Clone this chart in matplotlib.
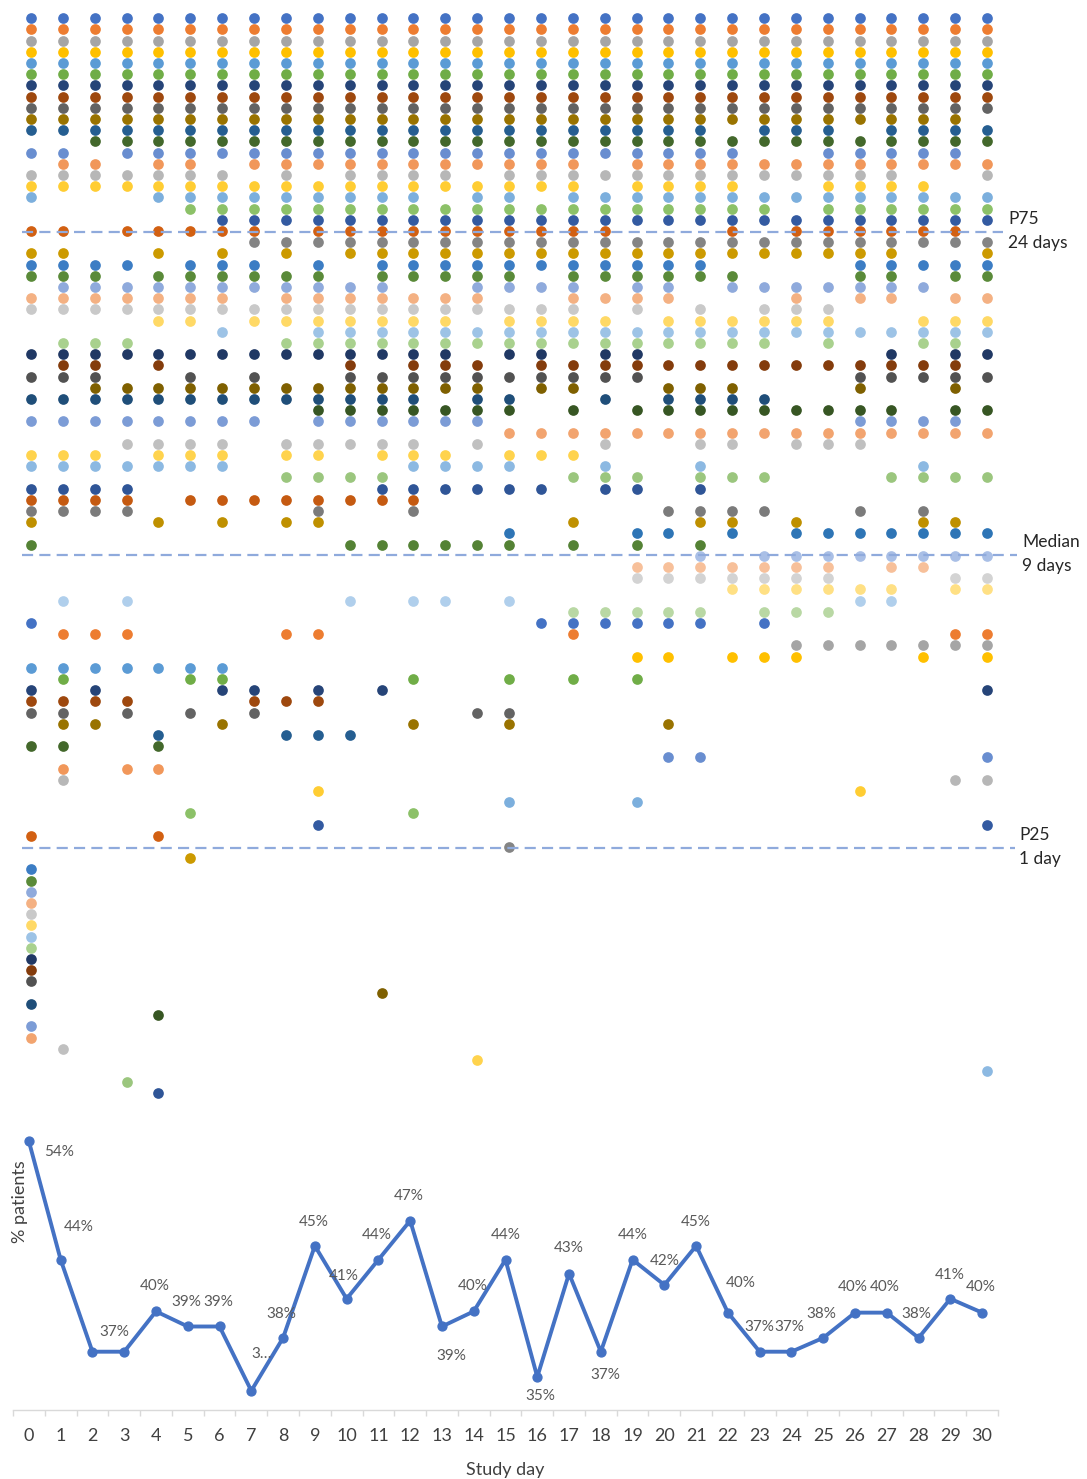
import matplotlib
matplotlib.use("Agg")
import matplotlib.pyplot as plt

# ---------------- data ----------------
# Study days 0..30
days = list(range(0, 31))

# Days on which each patient (row, top to bottom) has a dot; "a-b" = every day from a to b
patient_days_upper = [
    "0-30", "0-30", "0-30", "0-30", "0-30", "0-30", "0-30", "0-30", "0-30",
    "0-29", "0-21,23-25,27-30", "2-30", "0-1,3-22,25-29", "1-2,4-5,7-17,19-30",
    "0-6,8,10-13,15-27,30", "0-17,19-22,25-28", "0,4-12,14-15,17-30", "5-23,25-30",
    "6-30", "0-1,3-7,9-18,22,24-29", "7-30", "0-1,4,6,8,10-27,30",
    "0-3,5-7,9,11-21,26-30", "0-2,4-9,11-15,17-22,26-27,29-30",
    "1-11,14-17,19-20,22-28", "0-6,8-14,17-20,24,26-27,29-30",
    "0-17,19,21,23-25", "4-5,7-13,15-18,20-25,28-30", "6,9-30",
    "1-3,8-23,25,28-29", "0-13,15-16,18-19,27,29-30", "1-2,4,10,12-14,16-29",
]
patient_days_middle = [
    "0-2,5,7,10-19,26-30", "2-14,16-17,20-22,26,29", "0-12,14-15,18,20-23",
    "9-15,17,19-27,29-30", "0-7,9-14,26-29", "15-30",
    "3-6,8-12,14,18,21-22,24-26", "0-2,4-6,8-9,11-13,15-17", "0-6,12-15,18,21,28",
    "8-11,17-19,21-23,27-30", "0-3,11-16,18-19,21", "0-3,5-12",
    "0-3,9,12,20-23,26,28", "0,4,6,8-9,17,21-22,24,28-29", "15,19-20,22,24-30",
    "0,10-15,17,19,21", "21,23-30", "19-25,27-28", "19-25,29-30", "22-27,29-30",
    "1,3,10,12-13,15,26-27", "17-21,23-25", "0,16-21,23", "1-3,8-9,17,29-30",
    "24-30", "19-20,22-24,28,30", "0-6", "1,5-6,12,15,17,19", "0,2,6-7,9,11,30",
    "0-3,7-9", "0-1,3,5,7,14-15", "1-2,6,12,15,20",
]
patient_days_lower = [
    "4,8-10", "0-1,4", "20-21,30", "1,3-4", "1,29-30", "9,26", "15,19", "5,12",
    "9,30", "0,4", "15", "5", "0", "0", "0", "0", "0", "0", "0", "0", "0", "0",
    "0", "11", "0", "4", "0", "0", "1", "14", "30", "3", "4",
]

# Percentiles of days (row position of the reference lines, label text)
ref_names = ["P75", "Median", "P25"]
ref_values = ["24 days", "9 days", "1 day"]
ref_rows = [19.1, 47.9, 74.1]

# % patients per study day
pct_patients = [53.7, 44.3, 37.0, 37.0, 40.2, 39.0, 39.0, 33.9, 38.1, 45.4, 41.2,
                44.3, 47.4, 39.0, 40.2, 44.3, 35.0, 43.2, 37.0, 44.3, 42.3, 45.4,
                40.1, 37.0, 37.0, 38.1, 40.1, 40.1, 38.1, 41.2, 40.1]
pct_labels = ["54%", "44%", "", "37%", "40%", "39%", "39%", "3\u2026", "38%", "45%",
              "41%", "44%", "47%", "39%", "40%", "44%", "35%", "43%", "37%", "44%",
              "42%", "45%", "40%", "37%", "37%", "38%", "40%", "40%", "38%", "41%", "40%"]

# ---------------- styles ----------------
# Excel default series colour cycle (54 colours)
palette = [
    "#4472C4", "#ED7D31", "#A5A5A5", "#FFC000", "#5B9BD5", "#70AD47",
    "#264478", "#9E480E", "#636363", "#997300", "#255E91", "#43682B",
    "#698ED0", "#F1975A", "#B7B7B7", "#FFCD33", "#7CAFDD", "#8CC168",
    "#335AA1", "#D26012", "#848484", "#CC9A00", "#3C7DC4", "#5A8A39",
    "#8FAADC", "#F4B183", "#C9C9C9", "#FFD966", "#9DC3E6", "#A9D18E",
    "#203864", "#843C0C", "#525252", "#7F6000", "#1F4E79", "#375623",
    "#7C9CD6", "#F2A46F", "#C0C0C0", "#FFD34D", "#8CB9E2", "#9BC67E",
    "#2F5597", "#C55A11", "#7B7B7B", "#BF9000", "#2E75B6", "#548235",
    "#A9BFE6", "#F7C09A", "#D3D3D3", "#FFE084", "#B0CFEC", "#B9D8A4",
]
label_offsets = [(30, 11), (18, -33), (0, 0), (-10, -20), (-1, -25), (-1, -25), (-1, -25),
                 (10, -37), (-2, -24), (-1, -24), (-3, -23), (-2, -25), (-1, -25),
                 (9, 30), (-1, -25), (0, -25), (3, 19), (0, -26), (4, 23), (0, -25),
                 (0, -24), (0, -24), (13, -30), (0, -25), (-2, -25), (-2, -24),
                 (-2, -26), (-2, -26), (-2, -24), (-1, -24), (-1, -26)]

FONT = ["Lato", "DejaVu Sans"]
plt.rcParams["font.family"] = FONT


def parse_days(spec):
    out = []
    for part in spec.split(","):
        if "-" in part:
            a, b = part.split("-")
            out.extend(range(int(a), int(b) + 1))
        else:
            out.append(int(part))
    return out


patients = [parse_days(s) for s in patient_days_upper + patient_days_middle + patient_days_lower]

W, H = 1087, 1479
fig = plt.figure(figsize=(W / 100, H / 100), dpi=100)


def fy(py):
    return 1 - py / H


# ---------- dot matrix ----------
TOP_H = 1110
ax = fig.add_axes([0, fy(TOP_H), 1, TOP_H / H])
x0, dx = 31.0, 31.87
y0, dy = 18.3, 11.2
ax.set_xlim((0 - x0) / dx, (W - x0) / dx)
ax.set_ylim((TOP_H - y0) / dy, (0 - y0) / dy)
ax.axis("off")

for i, dlist in enumerate(patients):
    ax.plot(dlist, [i] * len(dlist), linestyle="none", marker="o", markersize=7.7,
            markeredgewidth=0, color=palette[i % len(palette)], clip_on=False, zorder=2)

line_ends_px = [1003, 1017, 1015]
label_x_px = [1008, 1022, 1019]
for name, val, row, xe, lx in zip(ref_names, ref_values, ref_rows, line_ends_px, label_x_px):
    ax.plot([(22 - x0) / dx, (xe - x0) / dx], [row, row], color="#8FAADC", lw=1.6,
            linestyle=(0, (5.0, 2.8)), zorder=3, clip_on=False)
    py = y0 + dy * row
    fig.text(lx / W, fy(py - 13), name, fontsize=12.5, color="#262626",
             ha="left", va="center")
    fig.text(lx / W, fy(py + 11), val, fontsize=12.5, color="#262626",
             ha="left", va="center")

# ---------- line chart ----------
L, R, T, B = 13, 998, 1128, 1410
ax2 = fig.add_axes([L / W, fy(B), (R - L) / W, (B - T) / H])
ax2.set_xlim(-0.5, 30.5)
scale = 12.6
ax2.set_ylim(37 - (B - 1351.7) / scale, 37 + (1351.7 - T) / scale)
ax2.plot(days, pct_patients, color="#4472C4", lw=2.8, marker="o", markersize=6.4,
         clip_on=False, zorder=3)
for d, v, lab, (ox, oy) in zip(days, pct_patients, pct_labels, label_offsets):
    if lab:
        ax2.annotate(lab, (d, v), xytext=(ox * 0.72, -oy * 0.72), textcoords="offset points",
                     ha="center", va="center", fontsize=11, color="#595959")

for s in ["top", "left", "right"]:
    ax2.spines[s].set_visible(False)
ax2.spines["bottom"].set_color("#D9D9D9")
ax2.spines["bottom"].set_linewidth(1.0)
ax2.set_yticks([])
ax2.set_xticks(days)
ax2.set_xticklabels([str(d) for d in days], fontsize=13, color="#404040")
ax2.tick_params(axis="x", which="major", length=0, pad=13)
ax2.set_xticks([d - 0.5 for d in days] + [30.5], minor=True)
ax2.tick_params(axis="x", which="minor", length=4.5, width=1.0, color="#D9D9D9")

fig.text(505 / W, fy(1470), "Study day", fontsize=13, color="#404040", ha="center", va="center")
fig.text(20 / W, fy(1202), "% patients", fontsize=13, color="#404040", ha="center",
         va="center", rotation=90)

fig.savefig("out.png", dpi=100)
